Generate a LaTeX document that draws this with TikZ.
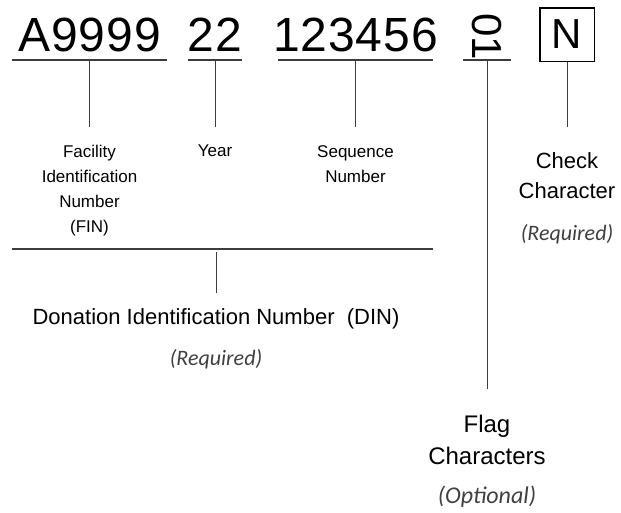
\documentclass[tikz,border=0pt]{standalone}
\usepackage{fontspec}
\usepackage{graphicx}
\usepackage{tikz}

\setmainfont{Liberation Sans}
\newfontfamily\notefont{Carlito}
\newfontfamily\codefont[LetterSpace=2]{Liberation Sans}

\definecolor{linegray}{HTML}{3C3C3C}
\definecolor{notegray}{HTML}{404040}

\tikzset{
	seg/.style={inner sep=0pt, anchor=south},
	digits/.style={seg, font=\codefont\fontsize{48}{48}\selectfont, text depth=8pt},
	uline/.style={draw=linegray, line width=1.2pt},
	stem/.style={draw=linegray, line width=0.9pt},
	lbl/.style={inner xsep=0pt, anchor=north, align=center},
}

\newcommand{\opt}[1]{{\notefont\itshape\color{notegray}#1}}

\begin{document}
\begin{tikzpicture}[x=1pt, y=-1pt]
		\def\codey{60}
		\def\lbly{127}

		\useasboundingbox (0,0) rectangle (621,512);

		\node[digits, minimum width=155pt] (fin) at (89.5,\codey) {A9999};
		\node[digits, minimum width=48pt] (year) at (215,\codey) {22};
		\node[digits, inner xsep=-5.5pt] (seq) at (355.5,\codey) {123456};
		\node[seg, minimum width=48pt, font=\fontsize{42}{42}\selectfont] (flag) at (487,\codey) {\rotatebox{-90}{01}};
		\node[draw, line width=1.5pt, inner sep=0pt, minimum width=54.5pt, minimum height=53.5pt, font=\fontsize{42}{42}\selectfont] (check) at (567,34.5) {N};

		\node[lbl, inner ysep=18pt, font=\fontsize{17}{25}\selectfont] (fin-lbl) at (89.5,\lbly) {Facility\\Identification\\Number\\(FIN)};
		\node[lbl, inner ysep=18pt, font=\fontsize{17}{25}\selectfont] (year-lbl) at (215,\lbly) {Year};
		\node[lbl, inner ysep=18pt, font=\fontsize{17}{25}\selectfont] (seq-lbl) at (355.5,\lbly) {Sequence\\Number};
		\node[lbl, inner ysep=25pt, font=\fontsize{22}{30}\selectfont] (check-lbl) at (567,\lbly) {Check\\Character\\[12pt]\opt{(Required)}};
		\node[lbl, inner ysep=26pt, font=\fontsize{24}{32}\selectfont] (flag-lbl) at (487,389) {Flag\\Characters\\[7pt]\opt{(Optional)}};

		\foreach \n in {fin, year, seq, flag}
			\draw[uline] (\n.south west) -- (\n.south east);
		\foreach \n in {fin, year, seq, flag, check}
			\draw[stem] (\n.south) -- (\n-lbl.north);

		\coordinate (din) at (216,249);
		\draw[uline] (fin.south west |- din) -- (seq.south east |- din);
		\node[lbl, inner ysep=15pt, font=\fontsize{22}{30}\selectfont] (din-lbl) at (216,293) {Donation Identification Number~~(DIN)\\[11pt]\opt{(Required)}};
		\draw[stem, shorten <=3pt] (din) -- (din-lbl.north);
	\end{tikzpicture}
\end{document}
